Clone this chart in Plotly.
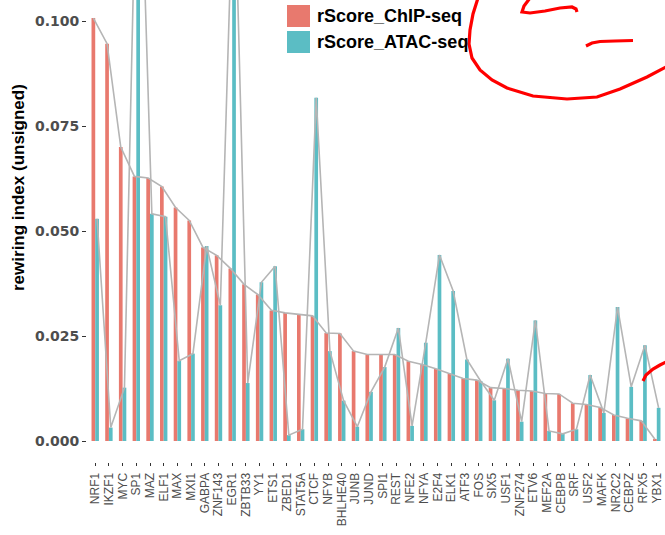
import plotly.graph_objects as go
import numpy as np

categories = ["NRF1", "IKZF1", "MYC", "SP1", "MAZ", "ELF1", "MAX", "MXI1", "GABPA", "ZNF143",
              "EGR1", "ZBTB33", "YY1", "ETS1", "ZBED1", "STAT5A", "CTCF", "NFYB", "BHLHE40", "JUNB",
              "JUND", "SPI1", "REST", "NFE2", "NFYA", "E2F4", "ELK1", "ATF3", "FOS", "SIX5",
              "USF1", "ZNF274", "ETV6", "MEF2A", "CEBPB", "SRF", "USF2", "MAFK", "NR2C2", "CEBPZ",
              "RFX5", "YBX1"]

chip = [0.1007, 0.0946, 0.0700, 0.0630, 0.0626, 0.0606, 0.0556, 0.0525, 0.0461, 0.0442,
        0.0411, 0.0373, 0.0349, 0.0311, 0.0305, 0.0301, 0.0298, 0.0257, 0.0256, 0.0214,
        0.0206, 0.0206, 0.0206, 0.0190, 0.0182, 0.0172, 0.0161, 0.0149, 0.0145, 0.0127,
        0.0125, 0.0121, 0.0119, 0.0113, 0.0112, 0.0090, 0.0087, 0.0080, 0.0062, 0.0054,
        0.0048, 0.0004]

atac = [0.0529, 0.0032, 0.0127, 0.1600, 0.0541, 0.0534, 0.0191, 0.0208, 0.0464, 0.0323,
        0.1400, 0.0138, 0.0378, 0.0416, 0.0014, 0.0028, 0.0817, 0.0214, 0.0096, 0.0034,
        0.0117, 0.0176, 0.0269, 0.0036, 0.0234, 0.0443, 0.0357, 0.0194, 0.0143, 0.0097,
        0.0196, 0.0046, 0.0287, 0.0024, 0.0017, 0.0028, 0.0157, 0.0067, 0.0319, 0.0129,
        0.0228, 0.0079]

y_ticks = [0.0, 0.025, 0.05, 0.075, 0.1]
series_names = ["rScore_ChIP-seq", "rScore_ATAC-seq"]

C_CHIP = "#E8796E"
C_ATAC = "#5BBDC4"
C_LINE = "#B5B5B5"

W, H = 665, 535
ML, MR, MT, MB = 87, 0, 0, 73
PW, PH = W - ML - MR, H - MT - MB

idx = np.arange(len(categories))
bw = 0.27
x_chip = idx - bw / 2
x_atac = idx + bw / 2

fig = go.Figure()
fig.add_trace(go.Bar(x=x_chip, y=chip, width=bw, marker=dict(color=C_CHIP, line=dict(width=0)),
                     name=series_names[0], showlegend=False))
fig.add_trace(go.Bar(x=x_atac, y=atac, width=bw, marker=dict(color=C_ATAC, line=dict(width=0)),
                     name=series_names[1], showlegend=False))
fig.add_trace(go.Scatter(x=x_chip, y=chip, mode="lines", line=dict(color=C_LINE, width=1.6),
                         showlegend=False, hoverinfo="skip"))
fig.add_trace(go.Scatter(x=x_atac, y=atac, mode="lines", line=dict(color=C_LINE, width=1.6),
                         showlegend=False, hoverinfo="skip"))


def px2paper(px, py):
    return (px - ML) / PW, (MT + PH - py) / PH


def path_from_px(points):
    pts = [px2paper(x, y) for x, y in points]
    s = "M {:.5f},{:.5f}".format(*pts[0])
    for p in pts[1:]:
        s += " L {:.5f},{:.5f}".format(*p)
    return s


shapes = []
# manual legend keys
for i, col in enumerate([C_CHIP, C_ATAC]):
    top = 5 + i * 26
    x0, y1 = px2paper(287, top)
    x1, y0 = px2paper(310, top + 22)
    shapes.append(dict(type="rect", xref="paper", yref="paper", x0=x0, x1=x1, y0=y0, y1=y1,
                       fillcolor=col, line=dict(width=0), layer="above"))

# red hand-drawn strokes
strokes = [
    [(478, -2), (473, 14), (470, 30), (469, 44), (472, 58), (480, 70), (492, 80), (507, 88),
     (533, 96), (567, 99), (597, 97), (620, 89), (647, 77), (666, 67)],
    [(530, -2), (524, 6), (522, 12), (530, 13), (545, 11), (560, 8), (572, 7), (576, 9), (577, 12)],
    [(586, 46), (592, 43), (600, 41.5), (615, 41), (633, 40.5)],
    [(643, 381), (646, 375), (653, 369), (660, 365), (666, 362)],
]
for st in strokes:
    shapes.append(dict(type="path", xref="paper", yref="paper", path=path_from_px(st),
                       line=dict(color="#FF0000", width=3.2), layer="above"))

annotations = []
for i, name in enumerate(series_names):
    ax, ay = px2paper(315, 16 + i * 26)
    annotations.append(dict(x=ax, y=ay, xref="paper", yref="paper", text=name, showarrow=False,
                            xanchor="left", yanchor="middle",
                            font=dict(family="Liberation Sans, Arial", size=18, color="#000000",
                                      weight="bold")))
tx, ty = px2paper(18, 188)
annotations.append(dict(x=tx, y=ty, xref="paper", yref="paper", text="rewiring index (unsigned)",
                        showarrow=False, textangle=-90, xanchor="center", yanchor="middle",
                        font=dict(family="Liberation Sans, Arial", size=17, color="#000000",
                                  weight="bold")))

fig.update_layout(
    width=W, height=H,
    margin=dict(l=ML, r=MR, t=MT, b=MB, autoexpand=False),
    paper_bgcolor="white", plot_bgcolor="white",
    barmode="overlay",
    showlegend=False,
    shapes=shapes,
    annotations=annotations,
    xaxis=dict(range=[-0.6, len(categories) - 0.4], tickmode="array", tickvals=idx,
               ticktext=categories, tickangle=-90, ticks="outside", ticklen=3, tickwidth=1,
               tickcolor="#333333", showgrid=False, zeroline=False, showline=False,
               ticklabelstandoff=2,
               tickfont=dict(family="Liberation Sans, Arial", size=12, color="#4D4D4D"),
               automargin=False),
    yaxis=dict(range=[-0.005, 0.105], tickmode="array", tickvals=y_ticks,
               ticktext=["{:.3f}".format(v) for v in y_ticks], ticks="outside", ticklen=4,
               tickwidth=1, tickcolor="#333333", showgrid=False, zeroline=False, showline=False,
               tickfont=dict(family="DejaVu Sans", size=14, color="#4D4D4D", weight="bold"),
               automargin=False),
)

fig.write_html("out.html", config={"displayModeBar": False},
               post_script="document.body.style.margin='0';document.body.style.overflow='hidden';")
